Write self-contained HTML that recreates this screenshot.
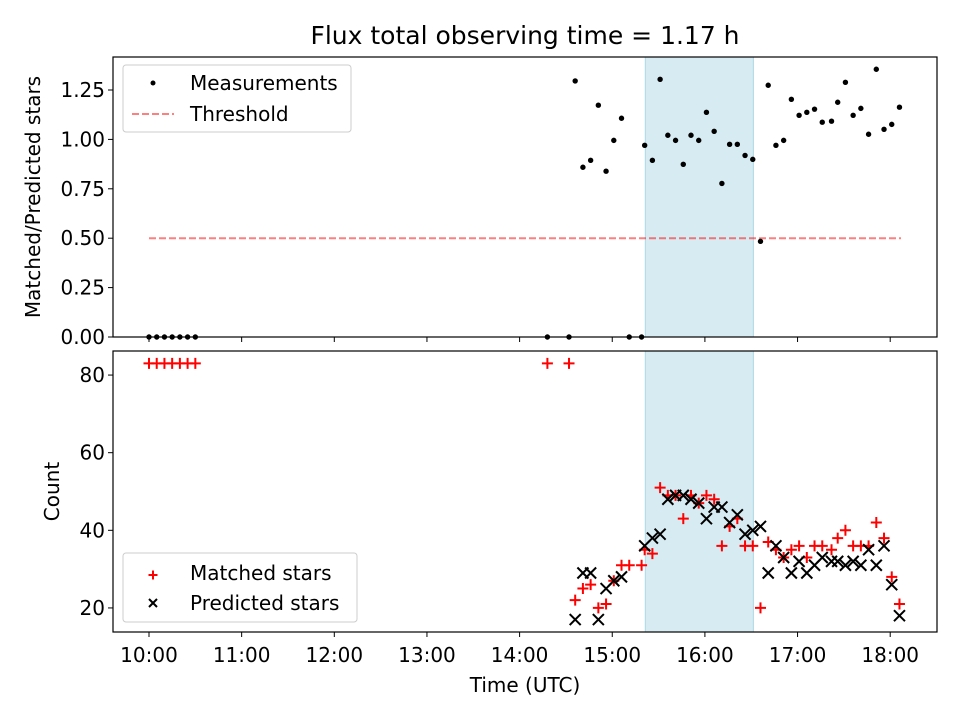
<!DOCTYPE html>
<html><head><meta charset="utf-8"><style>
body{margin:0;background:#fff}
svg{display:block;font-family:"DejaVu Sans","Liberation Sans",sans-serif}
</style></head><body>
<svg id="chart" width="960" height="720" viewBox="0 0 960 720" xmlns="http://www.w3.org/2000/svg">
<rect width="960" height="720" fill="#fff"/>
<text x="525" y="44" font-size="25" text-anchor="middle">Flux total observing time = 1.17 h</text>
<g id="top"></g><g id="bot"></g>
</svg>
<script>
// minutes since 10:00
const zeroTimes=[0,5,10,15,20,25,30,258,272,311,319];
const measTimes=[276,281,286,291,296,301,306,321,326,331,336,341,346,351,356,361,366,371,376,381,386,391,396,401,406,411,416,421,426,431,436,442,446,451,456,461,466,471,476,481,486];
const ratioValues=[1.296,0.859,0.894,1.173,0.839,0.995,1.107,0.970,0.894,1.304,1.021,0.995,0.874,1.021,0.995,1.137,1.041,0.777,0.975,0.975,0.919,0.899,0.484,1.274,0.970,0.995,1.203,1.122,1.137,1.153,1.087,1.092,1.188,1.289,1.122,1.157,1.026,1.355,1.051,1.076,1.163];
const predictedValues=[17,29,29,17,25,27,28,36,38,39,48,49,49,48,47,43,46,46,42,44,39,40,41,29,36,33,29,32,29,31,33,32,32,31,32,31,35,31,36,26,18];
const matchedValues=[22,25,26,20,21,27,31,35,34,51,49,49,43,49,47,49,48,36,41,43,36,36,20,37,35,33,35,36,33,36,36,35,38,40,36,36,36,42,38,28,21];
const extraMatchedTimes=[0,5,10,15,20,25,30,258,272,311,319];
const extraMatchedValues=[83,83,83,83,83,83,83,83,83,31,31];
const threshold=0.5, thrStart=0, thrEnd=487;
const spanStart=321.4, spanEnd=391.4;
const xTickLabels=["10:00","11:00","12:00","13:00","14:00","15:00","16:00","17:00","18:00"];
const topYTicks=[0,0.25,0.5,0.75,1.0,1.25];
const botYTicks=[20,40,60,80];

const NS="http://www.w3.org/2000/svg";
const L=113,R=937,FS=20;
const xs=m=>149+m*92.65/60;
const T={top:57,bot:337,min:0,max:1.417};
const B={top:351,bot:632,min:13.8,max:86.2};
const ys=(a,v)=>a.bot-(v-a.min)/(a.max-a.min)*(a.bot-a.top);
function el(p,tag,at,txt){const e=document.createElementNS(NS,tag);for(const k in at)e.setAttribute(k,at[k]);if(txt!==undefined)e.textContent=txt;p.appendChild(e);return e;}
const gT=document.getElementById('top'),gB=document.getElementById('bot');

function axes(g,a,yt,fmt,label,name){
  let sp=el(g,'rect',{x:xs(spanStart),y:a.top,width:xs(spanEnd)-xs(spanStart),height:a.bot-a.top,fill:'#add8e6','fill-opacity':0.5,stroke:'#add8e6'});
  
  
  yt.forEach(v=>{const y=ys(a,v);el(g,'line',{x1:L-5,x2:L,y1:y,y2:y,stroke:'#000','stroke-width':1});
    const t=el(g,'text',{x:L-8,y:y+7,'font-size':FS,'text-anchor':'end'},fmt(v));
    
    });
  xTickLabels.forEach((s,i)=>{const x=xs(i*60);el(g,'line',{x1:x,x2:x,y1:a.bot,y2:a.bot+5,stroke:'#000'});});
  const yl=el(g,'text',{transform:`translate(${name==='top'?40:59},${(a.top+a.bot)/2}) rotate(-90)`,'font-size':FS,'text-anchor':'middle'},label);
  
  
}
axes(gT,T,topYTicks,v=>v.toFixed(2),'Matched/Predicted stars','top');
axes(gB,B,botYTicks,v=>String(v),'Count','bottom');
xTickLabels.forEach((s,i)=>{const t=el(gB,'text',{x:xs(i*60),y:662,'font-size':FS,'text-anchor':'middle'},s);
  
  });
const xt=el(gB,'text',{x:525,y:692,'font-size':FS,'text-anchor':'middle'},'Time (UTC)');



// threshold
const th=el(gT,'line',{x1:xs(thrStart),x2:xs(thrEnd),y1:ys(T,threshold),y2:ys(T,threshold),stroke:'#ff0000','stroke-opacity':0.5,'stroke-width':2,'stroke-dasharray':'7,3'});


// measurements
function dot(t,v){const c=el(gT,'circle',{cx:xs(t),cy:ys(T,v),r:2.7,fill:'#000'});
  
  }
zeroTimes.forEach(t=>dot(t,0));
measTimes.forEach((t,i)=>dot(t,ratioValues[i]));

function plus(t,v){const x=xs(t),y=ys(B,v);const p=el(gB,'path',{d:`M${x-5.5},${y}H${x+5.5}M${x},${y-5.5}V${y+5.5}`,stroke:'#ff0000','stroke-width':2});
  
  }
function cross(t,v){const x=xs(t),y=ys(B,v);const p=el(gB,'path',{d:`M${x-5.5},${y-5.5}L${x+5.5},${y+5.5}M${x-5.5},${y+5.5}L${x+5.5},${y-5.5}`,stroke:'#000','stroke-width':2});
  
  }
extraMatchedTimes.forEach((t,i)=>plus(t,extraMatchedValues[i]));
measTimes.forEach((t,i)=>plus(t,matchedValues[i]));
measTimes.forEach((t,i)=>cross(t,predictedValues[i]));

// frames
[T,B].forEach(a=>el(a===T?gT:gB,'rect',{x:L,y:a.top,width:R-L,height:a.bot-a.top,fill:'none',stroke:'#000','stroke-width':1.2}));

// legends
function legendBox(g,x,y,w,h,name){const r=el(g,'rect',{x,y,width:w,height:h,rx:3,fill:'#fff','fill-opacity':0.8,stroke:'#ccc'});
  
  }
legendBox(gT,123,65,228,67,'top-legend');
el(gT,'circle',{cx:153,cy:83,r:2.5,fill:'#000'});
let t1=el(gT,'text',{x:190,y:90,'font-size':FS},'Measurements');


el(gT,'line',{x1:132,x2:174,y1:114,y2:114,stroke:'#ff0000','stroke-opacity':0.5,'stroke-width':2,'stroke-dasharray':'7,3'});
let t2=el(gT,'text',{x:190,y:121,'font-size':FS},'Threshold');


legendBox(gB,123,553,234,69,'bottom-legend');
el(gB,'path',{d:'M148.5,575H157.5M153,570.5V579.5',stroke:'#ff0000','stroke-width':2});
let t3=el(gB,'text',{x:190,y:580,'font-size':FS},'Matched stars');


el(gB,'path',{d:'M149,599L157,607M149,607L157,599',stroke:'#000','stroke-width':2});
let t4=el(gB,'text',{x:190,y:610,'font-size':FS},'Predicted stars');


</script>
</body></html>
